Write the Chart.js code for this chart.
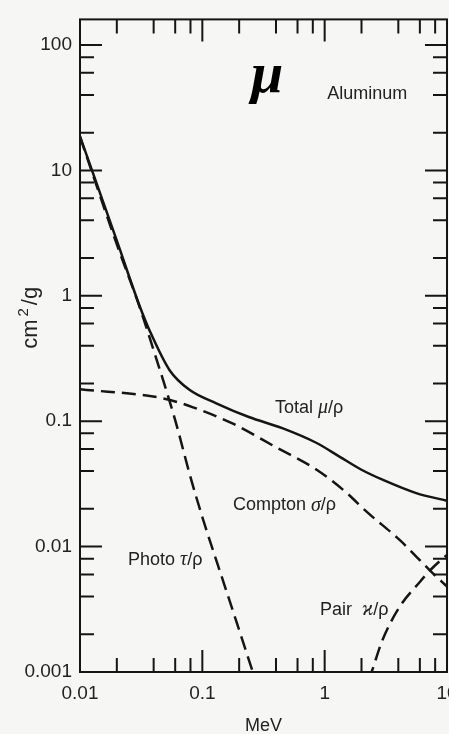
<!DOCTYPE html>
<html>
<head>
<meta charset="utf-8">
<script src="https://cdn.jsdelivr.net/npm/chart.js@4.4.0/dist/chart.umd.min.js"></script>
<style>
    html, body { margin: 0; padding: 0; background: #f6f6f4; overflow: hidden; }
    #wrap { width: 449px; height: 734px; }
</style>
</head>
<body>
<div id="wrap"><canvas id="attenuation" width="449" height="734"></canvas></div>
<script>
// photon energy in MeV, mass attenuation in cm2/g (aluminum)
const total_energy = [0.01, 0.02, 0.031, 0.037, 0.054, 0.079, 0.13, 0.24, 0.45, 0.86, 1.33, 2.0, 3.0, 5.6, 10]
const total_coeff = [18.7, 2.75, 0.81, 0.53, 0.255, 0.177, 0.139, 0.108, 0.088, 0.067, 0.052, 0.041, 0.034, 0.0267, 0.0232]

const photo_energy = [0.01, 0.02, 0.03, 0.04, 0.06, 0.08, 0.1, 0.15, 0.2, 0.3]
const photo_coeff = [18.5, 2.57, 0.87, 0.368, 0.102, 0.0358, 0.0172, 0.0051, 0.00216, 0.00064]

const compton_energy = [0.01, 0.048, 0.084, 0.18, 0.4, 0.86, 1.5, 2.2, 4.1, 7.2, 10]
const compton_coeff = [0.18, 0.152, 0.129, 0.095, 0.062, 0.041, 0.027, 0.019, 0.0113, 0.0065, 0.0048]

const pair_energy = [2.0, 2.42, 2.97, 4.09, 5.97, 7.6, 10]
const pair_coeff = [0.0006, 0.001, 0.0018, 0.0033, 0.0052, 0.00675, 0.0086]

const x_ticks = [0.01, 0.1, 1, 10]
const y_ticks = [0.001, 0.01, 0.1, 1, 10, 100]
const minor_steps = [2, 4, 6, 8]

// captions: text runs (greek runs in italic), anchored at (energy, coefficient)
const captions = [
    { parts: [['μ', 2]], energy: 0.25, coeff: 42, baseline: 'alphabetic' },
    { parts: [['Aluminum', 0]], energy: 1.05, coeff: 41 },
    { parts: [['Total ', 0], ['μ', 1], ['/ρ', 0]], energy: 0.393, coeff: 0.128 },
    { parts: [['Compton ', 0], ['σ', 1], ['/ρ', 0]], energy: 0.178, coeff: 0.0213 },
    { parts: [['Photo ', 0], ['τ', 1], ['/ρ', 0]], energy: 0.0247, coeff: 0.0078 },
    { parts: [['Pair  ', 0], ['ϰ', 1], ['/ρ', 0]], energy: 0.916, coeff: 0.00311 },
]

const INK = '#151515'
const TEXT = '#222'
const SANS = '"Liberation Sans", Arial, sans-serif'
const SERIF = '"Liberation Serif", "DejaVu Serif", serif'

function points(energy, coeff) {
    return energy.map((e, i) => {
        return { x: e, y: coeff[i] }
    })
}

// tick values on a log axis: majors at decades, minors at 2,4,6,8
function logMarks(min, max) {
    let marks = []
    for (let k = Math.floor(Math.log10(min)); k <= Math.ceil(Math.log10(max)); k++) {
        [1].concat(minor_steps).forEach((m) => {
            let v = m * Math.pow(10, k)
            if (v >= min * 0.999 && v <= max * 1.001) {
                marks.push({ value: v, major: m == 1 })
            }
        })
    }
    return marks
}

const frameTicks = {
    id: 'frameTicks',
    afterDatasetsDraw(chart) {
        let ctx = chart.ctx
        let area = chart.chartArea
        let xs = chart.scales.x
        let ys = chart.scales.y

        ctx.save()
        ctx.strokeStyle = INK
        ctx.lineWidth = 2
        ctx.lineCap = 'butt'
        ctx.strokeRect(area.left, area.top, area.right - area.left, area.bottom - area.top)

        ctx.beginPath()
        logMarks(xs.min, xs.max).forEach((mark) => {
            let px = xs.getPixelForValue(mark.value)
            let len = mark.major ? 22 : 14
            ctx.moveTo(px, area.bottom)
            ctx.lineTo(px, area.bottom - len)
            ctx.moveTo(px, area.top)
            ctx.lineTo(px, area.top + len)
        })
        logMarks(ys.min, ys.max).forEach((mark) => {
            let py = ys.getPixelForValue(mark.value)
            let len = mark.major ? 22 : 14
            ctx.moveTo(area.left, py)
            ctx.lineTo(area.left + len, py)
            ctx.moveTo(area.right, py)
            ctx.lineTo(area.right - len, py)
        })
        ctx.stroke()
        ctx.restore()
    }
}

const captionText = {
    id: 'captionText',
    afterDraw(chart) {
        let ctx = chart.ctx
        let area = chart.chartArea
        let xs = chart.scales.x
        let ys = chart.scales.y

        ctx.save()
        ctx.fillStyle = TEXT
        captions.forEach((cap) => {
            let x = xs.getPixelForValue(cap.energy)
            let y = ys.getPixelForValue(cap.coeff)
            ctx.textBaseline = cap.baseline || 'middle'
            cap.parts.forEach(([text, kind]) => {
                if (kind == 2) {
                    ctx.font = 'bold italic 58px ' + SERIF
                    ctx.fillStyle = '#000'
                } else if (kind == 1) {
                    ctx.font = 'italic 20px ' + SERIF
                    ctx.fillStyle = TEXT
                } else {
                    ctx.font = '18px ' + SANS
                    ctx.fillStyle = TEXT
                }
                ctx.fillText(text, x, y)
                x += ctx.measureText(text).width
            })
        })
        ctx.restore()

        // y axis title, cm with a raised 2, written bottom to top
        ctx.save()
        ctx.translate(30, area.top + (area.bottom - area.top) * 0.455)
        ctx.rotate(-Math.PI / 2)
        ctx.fillStyle = TEXT
        ctx.textBaseline = 'alphabetic'
        let runs = [['cm', 22, 0], ['2', 15, -9], ['/g', 22, 0]]
        let width = 0
        runs.forEach((r) => {
            ctx.font = r[1] + 'px ' + SANS
            width += ctx.measureText(r[0]).width + 3
        })
        let x = -width / 2
        runs.forEach((r) => {
            ctx.font = r[1] + 'px ' + SANS
            ctx.fillText(r[0], x, 7 + r[2])
            x += ctx.measureText(r[0]).width + 3
        })
        ctx.restore()
    }
}

function curve(label, energy, coeff, dashed) {
    return {
        label: label,
        data: points(energy, coeff),
        borderColor: INK,
        borderWidth: 2.5,
        borderDash: dashed ? [14, 7] : [],
        pointRadius: 0,
        fill: false,
        cubicInterpolationMode: 'monotone'
    }
}

let tickFont = { family: SANS, size: 19 }

new Chart(document.getElementById('attenuation'), {
    type: 'line',
    data: {
        datasets: [
            curve('Total', total_energy, total_coeff, false),
            curve('Photo', photo_energy, photo_coeff, true),
            curve('Compton', compton_energy, compton_coeff, true),
            curve('Pair', pair_energy, pair_coeff, true)
        ]
    },
    options: {
        responsive: false,
        animation: false,
        devicePixelRatio: 1,
        layout: { padding: { top: 18, right: 2, left: 0, bottom: 0 } },
        plugins: {
            legend: { display: false },
            tooltip: { enabled: false }
        },
        scales: {
            x: {
                type: 'logarithmic',
                min: 0.01,
                max: 10,
                grid: { display: false, drawTicks: false },
                border: { display: false },
                ticks: {
                    padding: 10,
                    color: TEXT,
                    font: tickFont,
                    autoSkip: false,
                    maxRotation: 0,
                    callback: (v) => String(v)
                },
                afterBuildTicks: (scale) => {
                    scale.ticks = x_ticks.map((v) => ({ value: v }))
                },
                afterFit: (scale) => {
                    scale.height = 62
                    scale.paddingRight = 0
                    scale.paddingLeft = 0
                },
                title: {
                    display: true,
                    text: 'MeV',
                    color: TEXT,
                    font: { family: SANS, size: 18 },
                    padding: { top: 0, bottom: -3 }
                }
            },
            y: {
                type: 'logarithmic',
                min: 0.001,
                max: 160,
                grid: { display: false, drawTicks: false },
                border: { display: false },
                ticks: {
                    padding: 8,
                    color: TEXT,
                    font: tickFont,
                    autoSkip: false,
                    callback: (v) => String(v)
                },
                afterBuildTicks: (scale) => {
                    scale.ticks = y_ticks.map((v) => ({ value: v }))
                },
                afterFit: (scale) => {
                    scale.width = 80
                }
            }
        }
    },
    plugins: [frameTicks, captionText]
})
</script>
</body>
</html>
